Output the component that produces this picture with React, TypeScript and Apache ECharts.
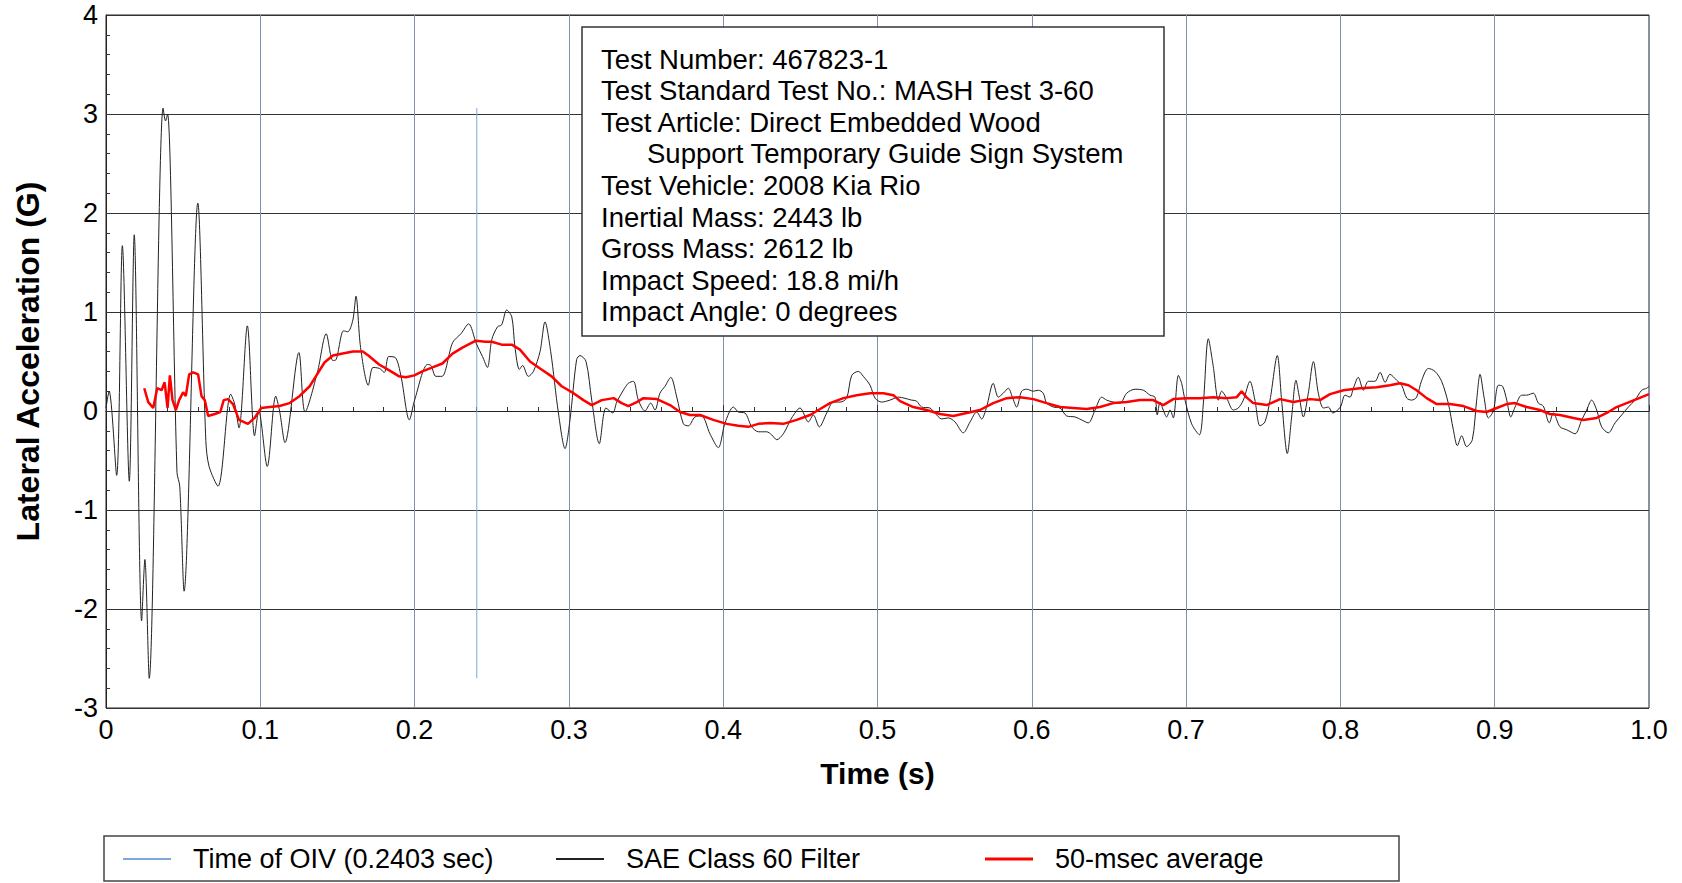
import { useEffect, useRef } from "react";
import * as echarts from "echarts";

// SAE Class 60 filtered lateral acceleration (time in s, acceleration in G)
const sae60Time = [
  0.0, 0.002, 0.0069, 0.0106, 0.0151, 0.0183, 0.0231, 0.0252, 0.028, 0.037,
  0.0386, 0.0399, 0.046, 0.0478, 0.0506, 0.0595, 0.0647, 0.0668, 0.0726, 0.0808,
  0.0834, 0.0862, 0.0916, 0.0963, 0.099, 0.1045, 0.11, 0.1125, 0.116, 0.125,
  0.129, 0.137, 0.1427, 0.147, 0.1492, 0.154, 0.1567, 0.16, 0.162, 0.165,
  0.17, 0.173, 0.1772, 0.1804, 0.1832, 0.1875, 0.1912, 0.1966, 0.2, 0.2084,
  0.2106, 0.2138, 0.2177, 0.2246, 0.23, 0.235, 0.24, 0.244, 0.2472, 0.25,
  0.2537, 0.2564, 0.2597, 0.263, 0.265, 0.2679, 0.27, 0.2737, 0.277, 0.2813,
  0.2845, 0.2882, 0.2932, 0.2975, 0.3007, 0.305, 0.3072, 0.3111, 0.3148, 0.3197,
  0.324, 0.3284, 0.331, 0.3353, 0.3385, 0.3418, 0.345, 0.3493, 0.353, 0.3558,
  0.359, 0.3623, 0.366, 0.3699, 0.3742, 0.3774, 0.3817, 0.386, 0.3914, 0.3968,
  0.4012, 0.4066, 0.4098, 0.4141, 0.4185, 0.4228, 0.4282, 0.4314, 0.4347, 0.439,
  0.4444, 0.4498, 0.4552, 0.4584, 0.4623, 0.4671, 0.4714, 0.4757, 0.48, 0.4833,
  0.4876, 0.4908, 0.4952, 0.4984, 0.5027, 0.5081, 0.5135, 0.5221, 0.5253, 0.5286,
  0.534, 0.5372, 0.5416, 0.5459, 0.5502, 0.5556, 0.56, 0.5643, 0.5675, 0.5707,
  0.575, 0.5783, 0.5815, 0.5848, 0.5874, 0.5902, 0.5934, 0.5967, 0.601, 0.6042,
  0.6074, 0.6096, 0.614, 0.6183, 0.6226, 0.628, 0.6323, 0.6366, 0.641, 0.6453,
  0.6485, 0.6528, 0.6572, 0.6615, 0.6669, 0.6723, 0.6766, 0.6798, 0.6813, 0.6831,
  0.6852, 0.6874, 0.6896, 0.6917, 0.695, 0.6971, 0.6993, 0.7036, 0.7086, 0.7112,
  0.7144, 0.7176, 0.7209, 0.723, 0.7263, 0.7306, 0.7338, 0.7371, 0.7414, 0.7446,
  0.7479, 0.7511, 0.7544, 0.7591, 0.7619, 0.7656, 0.7684, 0.7712, 0.7734, 0.776,
  0.7792, 0.7825, 0.7857, 0.789, 0.7922, 0.795, 0.8, 0.803, 0.8062, 0.8084,
  0.8116, 0.8149, 0.8181, 0.8224, 0.8257, 0.829, 0.8321, 0.8365, 0.8397, 0.843,
  0.8462, 0.8494, 0.8527, 0.857, 0.8613, 0.8656, 0.8699, 0.8732, 0.8758, 0.8786,
  0.8818, 0.8855, 0.8883, 0.8905, 0.8931, 0.8959, 0.8991, 0.9024, 0.9051, 0.9078,
  0.9104, 0.9132, 0.9175, 0.9207, 0.925, 0.9283, 0.9315, 0.9354, 0.938, 0.9423,
  0.9467, 0.9521, 0.9564, 0.9596, 0.9628, 0.9661, 0.9693, 0.9737, 0.978, 0.9823,
  0.9866, 0.9909, 0.9953, 0.9985, 1.0,
];
const sae60Accel = [
  0.03, 0.2, -0.65, 1.67, -0.71, 1.78, -2.12, -1.5, -2.7, 3.06,
  2.93, 3.0, -0.62, -0.76, -1.82, 2.1, -0.3, -0.56, -0.76, 0.17,
  0.07, -0.17, 0.86, -0.25, 0.0, -0.56, 0.15, 0.0, -0.32, 0.59,
  -0.01, 0.39, 0.78, 0.51, 0.52, 0.81, 0.8, 0.92, 1.16, 0.64,
  0.26, 0.44, 0.43, 0.39, 0.55, 0.54, 0.35, -0.09, 0.11, 0.47,
  0.46, 0.35, 0.35, 0.69, 0.78, 0.88, 0.68, 0.55, 0.44, 0.72,
  0.85, 0.87, 1.02, 0.95, 0.65, 0.42, 0.46, 0.35, 0.4, 0.6,
  0.9, 0.6, -0.02, -0.38, -0.09, 0.52, 0.56, 0.5, 0.11, -0.33,
  0.03, -0.02, 0.09, 0.21, 0.28, 0.3, 0.11, 0.0, 0.08, 0.01,
  0.18, 0.25, 0.34, 0.14, -0.13, -0.15, -0.06, -0.05, -0.23, -0.37,
  -0.12, 0.04, -0.01, -0.02, -0.16, -0.21, -0.21, -0.24, -0.29, -0.23,
  -0.07, 0.03, -0.11, -0.04, -0.16, -0.02, 0.09, 0.09, 0.13, 0.36,
  0.4, 0.35, 0.26, 0.13, 0.09, 0.11, 0.14, 0.11, 0.1, 0.04,
  0.03, -0.02, -0.08, -0.07, -0.11, -0.22, -0.11, -0.01, -0.08, 0.04,
  0.28, 0.14, 0.18, 0.23, 0.14, 0.04, 0.2, 0.22, 0.2, 0.21,
  0.18, 0.08, 0.04, 0.03, -0.05, -0.06, -0.09, -0.12, 0.01, 0.14,
  0.11, 0.09, 0.08, 0.18, 0.22, 0.21, 0.16, 0.14, -0.04, 0.09,
  0.01, -0.06, 0.01, -0.07, 0.36, 0.28, 0.11, -0.13, -0.24, 0.08,
  0.73, 0.45, 0.11, 0.2, 0.13, 0.01, 0.03, 0.11, 0.3, 0.11,
  -0.15, -0.11, 0.11, 0.56, 0.11, -0.43, -0.06, 0.31, 0.14, -0.06,
  0.18, 0.5, 0.18, 0.03, 0.04, -0.02, 0.04, 0.16, 0.14, 0.23,
  0.34, 0.21, 0.3, 0.3, 0.39, 0.29, 0.37, 0.31, 0.26, 0.13,
  0.11, 0.14, 0.31, 0.43, 0.4, 0.3, 0.08, -0.19, -0.35, -0.25,
  -0.36, -0.29, 0.11, 0.37, 0.14, -0.07, 0.0, 0.26, 0.25, 0.11,
  -0.06, 0.04, 0.16, 0.16, 0.18, 0.08, 0.05, -0.12, -0.02, -0.16,
  -0.19, -0.23, -0.09, 0.01, 0.11, 0.01, -0.16, -0.22, -0.12, -0.04,
  0.04, 0.11, 0.21, 0.23, 0.25,
];

// 50-msec moving average of the same signal
const avgTime = [
  0.0248, 0.0274, 0.0306, 0.0332, 0.036, 0.038, 0.0399, 0.0414, 0.0431, 0.0453,
  0.0474, 0.05, 0.0517, 0.0539, 0.0565, 0.0597, 0.0619, 0.064, 0.0662, 0.0705,
  0.0741, 0.0763, 0.079, 0.0823, 0.0862, 0.092, 0.0963, 0.1006, 0.106, 0.1125,
  0.119, 0.1254, 0.132, 0.136, 0.1416, 0.147, 0.1534, 0.16, 0.1664, 0.17,
  0.177, 0.1836, 0.19, 0.1944, 0.1998, 0.205, 0.2116, 0.218, 0.2246, 0.231,
  0.2397, 0.246, 0.25, 0.2564, 0.263, 0.2683, 0.2748, 0.2813, 0.2888, 0.2953,
  0.303, 0.3094, 0.3148, 0.3213, 0.329, 0.3342, 0.3385, 0.344, 0.3483, 0.357,
  0.3655, 0.372, 0.3785, 0.385, 0.3936, 0.4023, 0.4098, 0.4163, 0.4228, 0.4304,
  0.439, 0.4476, 0.4563, 0.4628, 0.4692, 0.4779, 0.4865, 0.4952, 0.5038, 0.5103,
  0.5146, 0.5232, 0.5318, 0.5405, 0.5491, 0.5578, 0.5664, 0.575, 0.5837, 0.5923,
  0.601, 0.6096, 0.6183, 0.6269, 0.6355, 0.6442, 0.6528, 0.6615, 0.6701, 0.6787,
  0.6852, 0.6917, 0.7003, 0.709, 0.7176, 0.7263, 0.7328, 0.736, 0.739, 0.7435,
  0.7522, 0.7609, 0.7695, 0.7803, 0.7868, 0.7933, 0.802, 0.8127, 0.8235, 0.8321,
  0.8386, 0.8441, 0.8494, 0.8559, 0.8624, 0.871, 0.8797, 0.8883, 0.8948, 0.9013,
  0.9078, 0.9132, 0.9207, 0.9293, 0.9358, 0.9423, 0.951, 0.9574, 0.9661, 0.9726,
  0.979, 0.9855, 0.992, 1.0,
];
const avgAccel = [
  0.23, 0.09, 0.03, 0.23, 0.21, 0.29, 0.03, 0.36, 0.11, 0.01,
  0.11, 0.19, 0.15, 0.37, 0.39, 0.37, 0.15, 0.11, -0.05, -0.03,
  -0.01, 0.11, 0.12, 0.07, -0.09, -0.13, -0.07, 0.03, 0.04, 0.05,
  0.08, 0.15, 0.25, 0.35, 0.49, 0.56, 0.58, 0.6, 0.6, 0.56,
  0.47, 0.41, 0.35, 0.34, 0.36, 0.4, 0.44, 0.48, 0.58, 0.64,
  0.71, 0.7, 0.7, 0.67, 0.67, 0.62, 0.5, 0.43, 0.35, 0.25,
  0.18, 0.11, 0.06, 0.11, 0.13, 0.08, 0.05, 0.09, 0.13, 0.12,
  0.06, -0.01, -0.04, -0.04, -0.09, -0.13, -0.15, -0.16, -0.13, -0.12,
  -0.13, -0.09, -0.04, 0.02, 0.08, 0.13, 0.16, 0.18, 0.18, 0.16,
  0.1, 0.04, 0.01, -0.03, -0.05, -0.02, 0.01, 0.08, 0.13, 0.14,
  0.12, 0.08, 0.04, 0.03, 0.02, 0.04, 0.08, 0.09, 0.11, 0.11,
  0.06, 0.12, 0.13, 0.13, 0.14, 0.13, 0.14, 0.2, 0.14, 0.08,
  0.06, 0.12, 0.09, 0.12, 0.11, 0.17, 0.21, 0.23, 0.24, 0.26,
  0.28, 0.26, 0.21, 0.13, 0.07, 0.07, 0.05, 0.0, -0.01, 0.03,
  0.07, 0.08, 0.04, 0.01, -0.03, -0.04, -0.07, -0.09, -0.07, -0.02,
  0.04, 0.08, 0.12, 0.17,
];

// Time of occupant impact velocity, drawn across the signal's extremes
const oivTime = 0.2403;
const oivRange = [-2.7, 3.06];

const seriesNames = ["Time of OIV (0.2403 sec)", "SAE Class 60 Filter", "50-msec average"];

const infoLines = [
  "Test Number: 467823-1",
  "Test Standard Test No.: MASH Test 3-60",
  "Test Article: Direct Embedded Wood",
  "Support Temporary Guide Sign System",
  "Test Vehicle: 2008 Kia Rio",
  "Inertial Mass: 2443 lb",
  "Gross Mass: 2612 lb",
  "Impact Speed: 18.8 mi/h",
  "Impact Angle: 0 degrees",
];
// continuation line of the test-article entry is indented
const infoIndented = [false, false, false, true, false, false, false, false, false];

const FONT = "'Liberation Sans', Arial, Helvetica, sans-serif";

function pairs(t: number[], v: number[]) {
  return t.map((x, i) => [x, v[i]]);
}

export default function App() {
  const ref = useRef<HTMLDivElement>(null);

  useEffect(() => {
    if (!ref.current) return;
    const chart = echarts.init(ref.current, undefined, { renderer: "svg" });

    const legendBase = {
      top: 845,
      padding: 0,
      icon: "rect",
      itemWidth: 48,
      selectedMode: false,
      textStyle: {
        fontFamily: FONT,
        fontSize: 27,
        lineHeight: 28,
        color: "#000",
        padding: [0, 0, 0, 17],
      },
    };

    chart.setOption({
      animation: false,
      backgroundColor: "#fff",
      grid: {
        left: 106,
        right: 33,
        top: 15,
        bottom: 175,
        show: true,
        borderColor: "#222",
        borderWidth: 1,
        backgroundColor: "#fff",
      },
      legend: [
        { ...legendBase, left: 123, itemHeight: 2, data: [seriesNames[0]] },
        { ...legendBase, left: 556, itemHeight: 2, data: [seriesNames[1]] },
        { ...legendBase, left: 985, itemHeight: 3, data: [seriesNames[2]] },
      ],
      xAxis: {
        type: "value",
        min: 0,
        max: 1,
        interval: 0.1,
        name: "Time (s)",
        nameLocation: "middle",
        nameGap: 50,
        nameTextStyle: { fontFamily: FONT, fontSize: 30, fontWeight: "bold", color: "#000" },
        axisLine: { show: true, lineStyle: { color: "#222", width: 1 } },
        axisTick: { show: true, inside: true, length: 6, lineStyle: { color: "#333" } },
        minorTick: { show: true, splitNumber: 5, length: 4, lineStyle: { color: "#333" } },
        axisLabel: {
          fontFamily: FONT,
          fontSize: 27,
          color: "#000",
          margin: 8,
          formatter: (v: number) => (v === 0 ? "0" : v.toFixed(1)),
        },
        splitLine: { show: true, lineStyle: { color: "#8290ae", width: 1 } },
      },
      yAxis: {
        type: "value",
        min: -3,
        max: 4,
        interval: 1,
        name: "Lateral Acceleration (G)",
        nameLocation: "middle",
        nameGap: 62,
        nameTextStyle: { fontFamily: FONT, fontSize: 32, fontWeight: "bold", color: "#000" },
        axisLine: { show: true, onZero: false, lineStyle: { color: "#222", width: 1 } },
        axisTick: { show: true, inside: true, length: 6, lineStyle: { color: "#333" } },
        minorTick: { show: true, splitNumber: 5, length: 4, lineStyle: { color: "#333" } },
        axisLabel: { fontFamily: FONT, fontSize: 27, color: "#000", margin: 8 },
        splitLine: { show: true, lineStyle: { color: "#333", width: 1 } },
      },
      series: [
        {
          name: seriesNames[0],
          type: "line",
          data: [
            [oivTime, oivRange[0]],
            [oivTime, oivRange[1]],
          ],
          showSymbol: false,
          color: "#7fa7d9",
          lineStyle: { color: "#7fa7d9", width: 1 },
          z: 2,
        },
        {
          name: seriesNames[1],
          type: "line",
          data: pairs(sae60Time, sae60Accel),
          showSymbol: false,
          smooth: 0.3,
          color: "#222",
          lineStyle: { color: "#222", width: 1 },
          z: 3,
        },
        {
          name: seriesNames[2],
          type: "line",
          data: pairs(avgTime, avgAccel),
          showSymbol: false,
          color: "#ff0000",
          lineStyle: { color: "#ff0000", width: 2.5 },
          z: 4,
        },
      ],
      graphic: [
        {
          type: "rect",
          z: 100,
          shape: { x: 582, y: 27, width: 582, height: 309 },
          style: { fill: "#fff", stroke: "#333", lineWidth: 1.5 },
        },
        ...infoLines.map((line, i) => ({
          type: "text",
          z: 101,
          x: infoIndented[i] ? 647 : 601,
          y: 59 + i * 31.6,
          style: {
            text: line,
            fontFamily: FONT,
            fontSize: 27.5,
            fill: "#000",
            verticalAlign: "middle",
            align: "left",
          },
        })),
        {
          type: "rect",
          z: 100,
          shape: { x: 104, y: 836, width: 1295, height: 45 },
          style: { fill: "none", stroke: "#444", lineWidth: 1.5 },
        },
      ],
    });

    return () => {
      chart.dispose();
    };
  }, []);

  return (
    <div
      ref={ref}
      style={{ position: "absolute", left: 0, top: 0, width: 1682, height: 883 }}
    />
  );
}
